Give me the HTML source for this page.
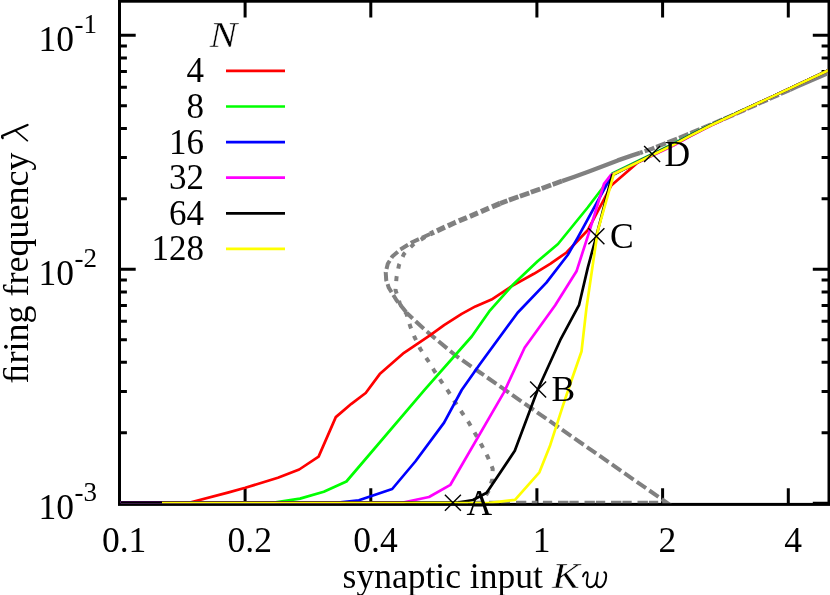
<!DOCTYPE html>
<html><head><meta charset="utf-8"><title>firing frequency vs synaptic input</title>
<style>html,body{margin:0;padding:0;background:#fff;}body{width:830px;height:595px;overflow:hidden;}svg{display:block;will-change:transform;}text{font-family:"Liberation Serif",serif;fill:#000;}</style></head><body>
<svg width="830" height="595" viewBox="0 0 830 595">
<rect x="0" y="0" width="830" height="595" fill="#ffffff"/>
<g stroke="#000" stroke-width="3.0" fill="none" stroke-linecap="butt">
<rect x="119.5" y="1.2" width="709.5" height="503.2"/>
<path d="M245.1 504.4v-16.2M245.1 1.2v16.2"/>
<path d="M370.8 504.4v-16.2M370.8 1.2v16.2"/>
<path d="M536.9 504.4v-16.2M536.9 1.2v16.2"/>
<path d="M662.6 504.4v-16.2M662.6 1.2v16.2"/>
<path d="M788.3 504.4v-16.2M788.3 1.2v16.2"/>
<path d="M119.5 503.2h16.2M829.0 503.2h-16.2"/>
<path d="M119.5 432.8h7.4M829.0 432.8h-7.4"/>
<path d="M119.5 391.6h7.4M829.0 391.6h-7.4"/>
<path d="M119.5 362.3h7.4M829.0 362.3h-7.4"/>
<path d="M119.5 339.7h7.4M829.0 339.7h-7.4"/>
<path d="M119.5 321.2h7.4M829.0 321.2h-7.4"/>
<path d="M119.5 305.5h7.4M829.0 305.5h-7.4"/>
<path d="M119.5 291.9h7.4M829.0 291.9h-7.4"/>
<path d="M119.5 280.0h7.4M829.0 280.0h-7.4"/>
<path d="M119.5 269.2h16.2M829.0 269.2h-16.2"/>
<path d="M119.5 198.8h7.4M829.0 198.8h-7.4"/>
<path d="M119.5 157.6h7.4M829.0 157.6h-7.4"/>
<path d="M119.5 128.4h7.4M829.0 128.4h-7.4"/>
<path d="M119.5 105.7h7.4M829.0 105.7h-7.4"/>
<path d="M119.5 87.2h7.4M829.0 87.2h-7.4"/>
<path d="M119.5 71.5h7.4M829.0 71.5h-7.4"/>
<path d="M119.5 58.0h7.4M829.0 58.0h-7.4"/>
<path d="M119.5 46.0h7.4M829.0 46.0h-7.4"/>
<path d="M119.5 35.3h16.2M829.0 35.3h-16.2"/>
</g>
<clipPath id="pc"><rect x="120.7" y="2.4" width="707.1" height="500.8"/></clipPath>
<g clip-path="url(#pc)">
<polyline points="829.0,72.6 797.0,86.6 790.0,89.7" fill="none" stroke="#808080" stroke-width="4.3" stroke-linejoin="round" />
<polyline points="790.0,89.7 730.0,116.4 692.0,132.6 670.0,141.6 652.0,148.8 640.0,152.9" fill="none" stroke="#808080" stroke-width="4.3" stroke-linejoin="round" stroke-dasharray="10.3 2"/>
<polyline points="640.0,152.9 632.3,155.4 617.8,160.4 603.4,166.0 588.9,171.4 574.5,176.7 562.0,181.1" fill="none" stroke="#808080" stroke-width="4.3" stroke-linejoin="round" />
<polyline points="562.0,181.1 530.4,192.5 505.3,201.4 500.0,203.5" fill="none" stroke="#808080" stroke-width="4.8" stroke-linejoin="round" stroke-dasharray="10 1.6"/>
<polyline points="500.0,203.5 480.3,211.9 455.2,222.5 430.1,234.0" fill="none" stroke="#808080" stroke-width="5.2" stroke-linejoin="round" stroke-dasharray="8.7 3.3"/>
<polyline points="430.1,234.0 412.6,242.0 400.3,249.5 392.3,256.5 387.8,263.8 385.7,272.2 386.2,280.0 388.8,287.8 396.5,300.2 406.5,312.7" fill="none" stroke="#808080" stroke-width="4.0" stroke-linejoin="round" stroke-dasharray="9 3.3"/>
<polyline points="658.5,496.9 480.0,372.5 455.4,355.3 425.3,330.2 406.5,312.7" fill="none" stroke="#808080" stroke-width="4.0" stroke-linejoin="round" stroke-dasharray="11.2 4"/>
<polyline points="662.2,502.8 667,502.8 661.75,499.14" fill="none" stroke="#808080" stroke-width="4.0" stroke-linejoin="miter" stroke-miterlimit="12"/>
<path d="M648.9 502.8H658.2M637.5 502.8H647.9M622.4 502.8H631.7M611.0 502.8H621.4M595.9 502.8H605.2M584.5 502.8H594.9M569.4 502.8H578.7M558.0 502.8H568.4M542.9 502.8H552.2M531.8 502.8H537.5M516.0 502.8H526.3M500.5 502.8H510.0M489.0 502.8H499.5M474.0 502.8H484.0M458.0 502.8H468.0" fill="none" stroke="#808080" stroke-width="4.0"/>
<polyline points="430.1,234.0 414.0,243.8 404.0,253.8 399.0,265.0 396.5,277.6 395.5,290.0 400.0,304.0 406.5,314.0 410.3,326.5 414.8,337.7 420.3,349.0 427.8,360.3 434.0,370.3 441.4,381.6 448.5,391.7 455.1,402.2 462.2,412.9 469.3,423.4 475.7,434.5 481.8,445.5 487.8,457.0 492.7,468.7 492.2,479.8 488.5,491.0 485.0,497.0" fill="none" stroke="#808080" stroke-width="4.0" stroke-linejoin="round" stroke-dasharray="5 7.69" stroke-dashoffset="6.77"/>
<polyline points="119.4,502.5 190.0,502.5 227.8,492.6 245.3,487.8 277.9,477.7 299.2,469.5 318.6,456.6 335.8,417.1 351.4,403.8 365.7,393.0 379.7,374.1 404.0,352.8 430.3,335.2 444.1,325.2 461.7,313.9 475.4,306.4 491.5,299.6 511.3,286.4 533.9,273.8 550.2,263.8 566.5,252.5 587.7,230.3 611.5,185.2 637.8,162.6 652.4,155.3 673.4,145.2 690.0,136.1 710.0,125.9 760.0,102.3 829.0,70.1" fill="none" stroke="#ff0000" stroke-width="2.7" stroke-linejoin="round" />
<polyline points="119.4,502.5 274.0,502.5 300.0,498.6 323.8,491.7 346.4,481.5 425.2,389.1 471.7,336.5 489.2,311.4 512.6,285.1 537.6,261.3 558.0,244.0 587.7,207.5 602.7,187.7 612.3,173.4 652.4,153.9 673.4,143.8 690.0,135.0 710.0,125.2 760.0,102.3 829.0,70.1" fill="none" stroke="#00ff00" stroke-width="2.7" stroke-linejoin="round" />
<polyline points="119.4,502.5 338.0,502.5 358.9,500.3 392.2,489.0 415.3,461.5 444.1,422.6 461.7,390.0 480.0,364.0 517.6,312.7 546.4,282.6 567.7,255.0 577.6,237.8 612.2,174.5 652.4,154.5 673.4,144.4 690.0,135.5 710.0,125.5 760.0,102.3 829.0,70.1" fill="none" stroke="#0000ff" stroke-width="2.7" stroke-linejoin="round" />
<polyline points="119.4,502.5 403.0,502.5 429.0,497.0 450.4,484.8 503.8,392.6 524.6,347.8 555.2,305.2 576.5,271.3 588.9,232.8 604.0,183.9 610.8,175.2 652.4,155.6 673.4,145.5 690.0,136.4 710.0,126.0 760.0,102.3 829.0,70.1" fill="none" stroke="#ff00ff" stroke-width="2.7" stroke-linejoin="round" />
<polyline points="119.4,502.5 458.0,502.5 473.0,500.0 486.7,492.8 514.8,450.8 537.6,390.0 560.2,340.2 579.0,305.2 587.8,267.6 595.3,240.0 612.2,175.2 652.4,154.7 673.4,144.6 690.0,135.7 710.0,125.5 760.0,102.3 829.0,70.1" fill="none" stroke="#000000" stroke-width="2.7" stroke-linejoin="round" />
<polyline points="162.0,503.2 488.0,503.2 515.0,499.8 539.4,472.3 550.2,445.2 562.7,406.3 571.5,380.3 581.5,351.5 586.5,307.7 595.3,247.5 597.9,230.3 613.9,174.0 652.4,155.0 673.4,144.9 690.0,135.9 710.0,125.7 760.0,102.3 829.0,70.1" fill="none" stroke="#ffff00" stroke-width="2.7" stroke-linejoin="round" />
</g>
<path d="M444.9 494.8L460.9 510.8M444.9 510.8L460.9 494.8" stroke="#000" stroke-width="1.4" fill="none"/>
<text x="466.4" y="514.6" font-size="35.5">A</text>
<path d="M530.1 381.5L546.1 397.5M530.1 397.5L546.1 381.5" stroke="#000" stroke-width="1.4" fill="none"/>
<text x="551.6" y="401.3" font-size="35.5">B</text>
<path d="M588.4 228.2L604.4 244.2M588.4 244.2L604.4 228.2" stroke="#000" stroke-width="1.4" fill="none"/>
<text x="609.9" y="248.0" font-size="35.5">C</text>
<path d="M644.1 145.9L660.1 161.9M644.1 161.9L660.1 145.9" stroke="#000" stroke-width="1.4" fill="none"/>
<text x="664.6" y="165.7" font-size="35.5">D</text>
<text x="124.1" y="551.8" font-size="35.5" text-anchor="middle">0.1</text>
<text x="249.8" y="551.8" font-size="35.5" text-anchor="middle">0.2</text>
<text x="375.5" y="551.8" font-size="35.5" text-anchor="middle">0.4</text>
<text x="541.6" y="551.8" font-size="35.5" text-anchor="middle">1</text>
<text x="667.3" y="551.8" font-size="35.5" text-anchor="middle">2</text>
<text x="793.0" y="551.8" font-size="35.5" text-anchor="middle">4</text>
<text x="38.6" y="51.4" font-size="35.5">10<tspan font-size="27.0" dy="-18.2" dx="0.3">-1</tspan></text>
<text x="38.6" y="285.4" font-size="35.5">10<tspan font-size="27.0" dy="-18.2" dx="0.3">-2</tspan></text>
<text x="38.6" y="519.3" font-size="35.5">10<tspan font-size="27.0" dy="-18.2" dx="0.3">-3</tspan></text>
<text transform="translate(209.6,47) scale(1.17,1.02)" font-size="35.5" font-style="italic" stroke="#fff" stroke-width="0.4">N</text>
<text x="204" y="82.4" font-size="35" text-anchor="end">4</text>
<path d="M226 70.9H285" stroke="#ff0000" stroke-width="2.7" fill="none"/>
<text x="204" y="118.0" font-size="35" text-anchor="end">8</text>
<path d="M226 106.5H285" stroke="#00ff00" stroke-width="2.7" fill="none"/>
<text x="204" y="153.6" font-size="35" text-anchor="end">16</text>
<path d="M226 142.1H285" stroke="#0000ff" stroke-width="2.7" fill="none"/>
<text x="204" y="189.2" font-size="35" text-anchor="end">32</text>
<path d="M226 177.7H285" stroke="#ff00ff" stroke-width="2.7" fill="none"/>
<text x="204" y="224.8" font-size="35" text-anchor="end">64</text>
<path d="M226 213.3H285" stroke="#000000" stroke-width="2.7" fill="none"/>
<text x="204" y="260.4" font-size="35" text-anchor="end">128</text>
<path d="M226 248.9H285" stroke="#ffff00" stroke-width="2.7" fill="none"/>
<text x="342.6" y="588" font-size="35.5">synaptic input</text>
<text transform="translate(552.0,588) scale(1.18,1.02)" font-size="35.5" font-style="italic" stroke="#fff" stroke-width="0.45">K</text>
<path d="M583 576.4C583.8 573.4 585.6 571.9 587 572.3C588.6 572.9 587.5 577 586.9 580.5C586.2 585.2 587.6 587.3 590.2 587.3C593.2 587.3 595.6 584.4 596.6 580.6L597.7 572.6M596.6 580.6C595.8 585.4 597.4 587.3 599.8 587.3C603 587.3 605.9 582.4 606.2 576.4C606.3 573.8 605.6 572.5 604.3 572.3" stroke="#000" stroke-width="1.9" fill="none" stroke-linecap="round" stroke-linejoin="round"/>
<text transform="translate(27.6,383.4) rotate(-90)" font-size="36">&#xFB01;ring frequency</text>
<g transform="translate(27.9,141.6) rotate(-90)" stroke="#000" fill="none" stroke-linecap="round">
<path d="M3.6 -25.2Q4.4 -26.2 5.7 -25.7L16.6 -0.4" stroke-width="2.3"/>
<path d="M10.9 -12.6L0.8 -0.4" stroke-width="1.5"/>
</g>
</svg></body></html>
